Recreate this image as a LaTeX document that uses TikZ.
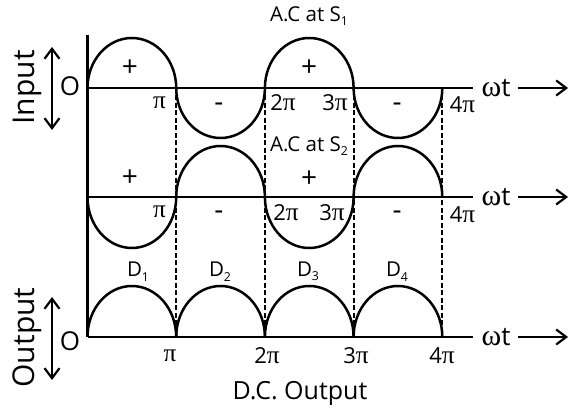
\documentclass[tikz,border=0pt]{standalone}
\usepackage{fontspec}
\usepackage{graphicx}
\setmainfont{Open Sans}
\newfontfamily\symf[Scale=1.15]{Liberation Serif}
\usetikzlibrary{arrows.meta}
\newcommand\PI{{\symf π}}
\newcommand\OMG{{\symf ω}}
\newcommand\sbs[1]{\raisebox{-0.4ex}{\scalebox{0.6}{#1}}}
\begin{document}
\begin{tikzpicture}[x=1pt,y=1pt,
  wave/.style={line width=2.5pt},
  axisline/.style={line width=2.3pt},
  guide/.style={line width=2pt, dash pattern=on 5pt off 2.5pt},
  arr/.style={line width=2.2pt, -{Straight Barb[length=10pt,width=15pt,line width=2.2pt]}},
  darr/.style={line width=2.2pt, {Straight Barb[length=10pt,width=15pt,line width=2.2pt]}-{Straight Barb[length=10pt,width=15pt,line width=2.2pt]}},
  big/.style={inner sep=0pt, font=\fontsize{30}{30}\selectfont},
  mid/.style={inner sep=0pt, font=\fontsize{25}{25}\selectfont},
  pil/.style={inner sep=0pt, font=\fontsize{22}{22}\selectfont},
  sml/.style={inner sep=0pt, font=\fontsize{20.5}{20.5}\selectfont},
  sgn/.style={inner sep=0pt, font=\fontsize{28}{28}\selectfont},
  ol/.style={inner sep=0pt, font=\fontsize{26}{26}\selectfont},
  wtl/.style={inner sep=0pt, font=\fontsize{26}{26}\selectfont},
]
\useasboundingbox (0,0) rectangle (577,409);
\def\rx{44.35pt}
% dashed guides
\foreach \x in {176.2,264.9,353.6,442.3}
  \draw[guide] (\x,321) -- (\x,72);
% axes
\draw[axisline] (87.5,374) -- (87.5,72);
\draw[axisline] (87.5,321) -- (473,321);
\draw[axisline] (87.5,212) -- (473,212);
\draw[axisline] (87.5,72) -- (473,72);
% row 1 wave
\draw[wave] (87.5,321)
  arc[start angle=180,end angle=0,x radius=\rx,y radius=50pt]
  arc[start angle=180,end angle=360,x radius=\rx,y radius=50pt]
  arc[start angle=180,end angle=0,x radius=\rx,y radius=50pt]
  arc[start angle=180,end angle=360,x radius=\rx,y radius=50pt];
% row 2 wave
\draw[wave] (87.5,212)
  arc[start angle=180,end angle=360,x radius=\rx,y radius=51pt]
  arc[start angle=180,end angle=0,x radius=\rx,y radius=51pt]
  arc[start angle=180,end angle=360,x radius=\rx,y radius=51pt]
  arc[start angle=180,end angle=0,x radius=\rx,y radius=51pt];
% output arches
\foreach \x in {87.5,176.2,264.9,353.6}
  \draw[wave] (\x,72) arc[start angle=180,end angle=0,x radius=\rx,y radius=51pt];
% side labels
\node[big,rotate=90] (inp) at (27,321.5) {Input};
\node[big,rotate=90] (outp) at (27,71.5) {Output};
\coordinate (ia) at (52,362); \coordinate (ib) at (52,279);
\draw[darr] (ia) -- (ib);
\coordinate (oa) at (52,112); \coordinate (ob) at (52,29);
\draw[darr] (oa) -- (ob);
\node[ol] (o1) at (70,323) {O};
\node[ol] (o2) at (70,68) {O};
% titles
\node[sml] (s1) at (309,393) {A.C at S\sbs{1}};
\node[sml] (s2) at (309,263) {A.C at S\sbs{2}};
\node[mid] (dc) at (300,16) {D.C. Output};
% signs
\node[sgn] (p1) at (130,341) {+};
\node[sgn] (p2) at (309,341) {+};
\node[sgn] (m1) at (219,302) {-};
\node[sgn] (m2) at (397,302) {-};
\node[sgn] (p3) at (130,231) {+};
\node[sgn] (p4) at (309,230) {+};
\node[sgn] (m3) at (219,194) {-};
\node[sgn] (m4) at (397,194) {-};
% pi labels row 1
\node[pil] (a1) at (159.5,306) {\PI};
\node[pil] (a2) at (283,306) {2\PI};
\node[pil] (a3) at (335,306) {3\PI};
\node[pil] (a4) at (462.5,304) {4\PI};
% pi labels row 2
\node[pil] (b1) at (159.5,197) {\PI};
\node[pil] (b2) at (286,196) {2\PI};
\node[pil] (b3) at (332,196) {3\PI};
\node[pil] (b4) at (462.5,194) {4\PI};
% pi labels output
\node[pil] (c1) at (170,53) {\PI};
\node[pil] (c2) at (267,53) {2\PI};
\node[pil] (c3) at (356,53) {3\PI};
\node[pil] (c4) at (442,53) {4\PI};
% D labels
\node[sml] (d1) at (138,137.5) {D\sbs{1}};
\node[sml] (d2) at (220,137.5) {D\sbs{2}};
\node[sml] (d3) at (308,137.5) {D\sbs{3}};
\node[sml] (d4) at (397,137.5) {D\sbs{4}};
% omega t labels and arrows
\node[wtl] (w1) at (496,321) {\OMG t};
\node[wtl] (w2) at (496,212) {\OMG t};
\node[wtl] (w3) at (496,72) {\OMG t};
\coordinate (e1) at (568,321);
\coordinate (e2) at (568,212);
\coordinate (e3) at (568,72);
\draw[arr] ([xshift=7pt]w1.east) -- (e1);
\draw[arr] ([xshift=7pt]w2.east) -- (e2);
\draw[arr] ([xshift=7pt]w3.east) -- (e3);
\end{tikzpicture}
\end{document}
